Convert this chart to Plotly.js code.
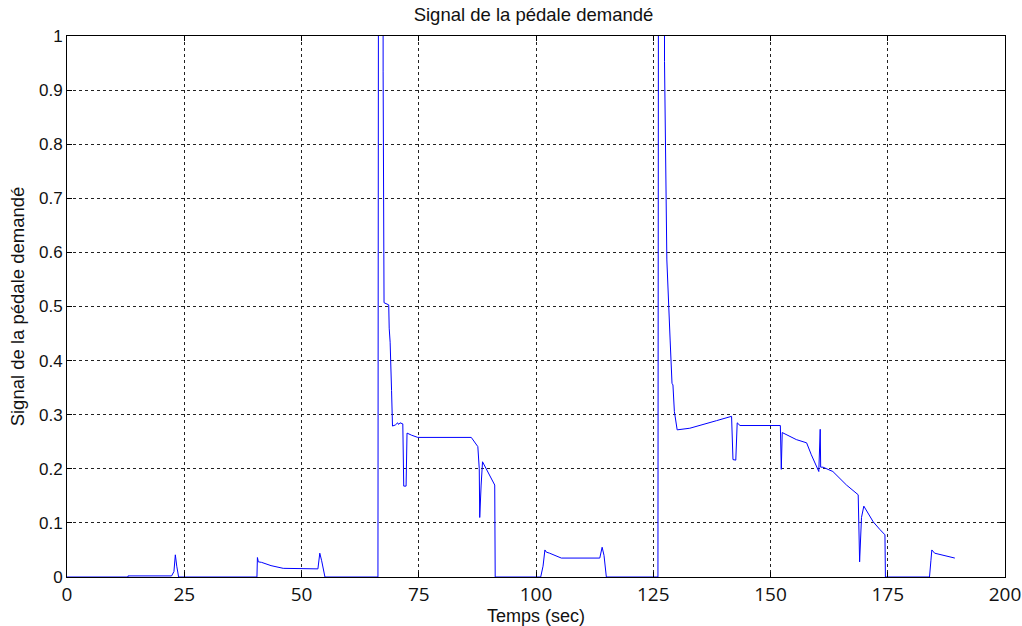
<!DOCTYPE html>
<html>
<head>
<meta charset="utf-8">
<script src="https://cdn.plot.ly/plotly-3.0.1.min.js"></script>
<style>html,body{margin:0;padding:0;background:#fff;}#chart{width:1022px;height:626px;}</style>
</head>
<body>
<div id="chart"></div>
<script>
// Time (sec)
const timeSec = [
  0, 13.0, 13.0, 22.3, 22.8, 23.1, 23.4, 23.8,
  40.5, 40.6, 40.8, 41.5, 43.5, 46.1, 53.5, 53.7, 53.9, 54.3, 55.0,
  66.3, 66.4, 67.4, 67.4, 67.6, 68.0, 68.6, 68.7, 68.9, 69.2, 69.4, 70.0, 70.5, 70.7, 71.0, 71.6, 71.8, 72.3, 72.5, 73.5, 74.8, 86.2, 86.9, 87.6, 87.9, 88.0, 88.3, 88.6, 91.2, 91.3,
  101.0, 101.5, 101.9, 102.2, 102.9, 105.4, 113.6, 114.1, 114.5, 115.0,
  126.0, 126.1, 127.4, 127.4, 127.9, 128.3, 128.6, 129.0, 129.2, 129.5, 129.8, 130.1, 132.8, 136.3, 138.5, 141.7, 142.0, 142.6, 142.9, 143.5, 144.9, 152.1, 152.3, 152.5, 155.5, 157.7, 158.7, 159.8, 160.3, 160.6, 160.7, 161.2, 163.3, 166.2, 168.7, 169.0, 169.4, 169.9, 171.9, 173.3, 174.4, 174.5,
  183.9, 184.2, 184.4, 185.0, 189.3
];
// Pedal signal
const pedalSignal = [
  0, 0, 0.002, 0.002, 0.01, 0.041, 0.02, 0,
  0, 0.036, 0.028, 0.027, 0.021, 0.016, 0.015, 0.03, 0.044, 0.03, 0,
  0, 1.05, 1.05, 0.935, 0.507, 0.505, 0.503, 0.46, 0.434, 0.345, 0.279, 0.281, 0.285, 0.282, 0.285, 0.283, 0.168, 0.168, 0.266, 0.262, 0.258, 0.258, 0.25, 0.241, 0.2, 0.110, 0.17, 0.213, 0.170, 0,
  0, 0.02, 0.05, 0.046, 0.044, 0.035, 0.035, 0.055, 0.04, 0,
  0, 1.05, 1.05, 0.953, 0.586, 0.487, 0.438, 0.358, 0.355, 0.306, 0.289, 0.272, 0.275, 0.283, 0.289, 0.297, 0.217, 0.216, 0.285, 0.280, 0.280, 0.280, 0.199, 0.267, 0.254, 0.248, 0.226, 0.204, 0.195, 0.273, 0.203, 0.203, 0.195, 0.170, 0.152, 0.028, 0.11, 0.131, 0.102, 0.088, 0.078, 0,
  0, 0.03, 0.05, 0.044, 0.035
];
const xTicks = [0, 25, 50, 75, 100, 125, 150, 175, 200];
const yTicks = [0, 0.1, 0.2, 0.3, 0.4, 0.5, 0.6, 0.7, 0.8, 0.9, 1];
const yTickText = ['0', '0.1', '0.2', '0.3', '0.4', '0.5', '0.6', '0.7', '0.8', '0.9', '1'];
const titleText = 'Signal de la pédale demandé';
const xTitle = 'Temps (sec)';
const yTitle = 'Signal de la pédale demandé';

const trace = {
  x: timeSec, y: pedalSignal, type: 'scatter', mode: 'lines',
  line: {color: '#0000ff', width: 1}, hoverinfo: 'skip', cliponaxis: true
};
const layout = {
  width: 1022, height: 626,
  margin: {l: 67, r: 17, t: 36, b: 49},
  paper_bgcolor: '#ffffff', plot_bgcolor: '#ffffff',
  showlegend: false,
  title: {text: titleText, x: 0.522, xanchor: 'center', y: 0.976, yanchor: 'middle',
          font: {family: 'Liberation Sans, Arial, sans-serif', size: 18.5, color: '#111'}},
  xaxis: {
    range: [0, 200], tickvals: xTicks, ticktext: xTicks.map(String),
    showgrid: true, gridcolor: '#222', griddash: '3px,3px', gridwidth: 1,
    showline: true, linecolor: '#000', linewidth: 1, mirror: 'ticks',
    ticks: 'inside', ticklen: 5, tickcolor: '#000',
    zeroline: false,
    tickfont: {family: 'Open Sans, sans-serif', size: 19, color: '#111'},
    title: {text: xTitle, standoff: 0, font: {family: 'Liberation Sans, Arial, sans-serif', size: 18, color: '#111'}}
  },
  yaxis: {
    range: [0, 1], tickvals: yTicks, ticktext: yTickText,
    showgrid: true, gridcolor: '#222', griddash: '3px,3px', gridwidth: 1,
    showline: true, linecolor: '#000', linewidth: 1, mirror: 'ticks',
    ticks: 'inside', ticklen: 5, tickcolor: '#000',
    zeroline: false,
    tickfont: {family: 'Liberation Sans, Arial, sans-serif', size: 17, color: '#111'},
    title: {text: yTitle, standoff: 9, font: {family: 'Liberation Sans, Arial, sans-serif', size: 18.5, color: '#111'}}
  }
};
Plotly.newPlot('chart', [trace], layout, {staticPlot: true, displayModeBar: false});
</script>
</body>
</html>
